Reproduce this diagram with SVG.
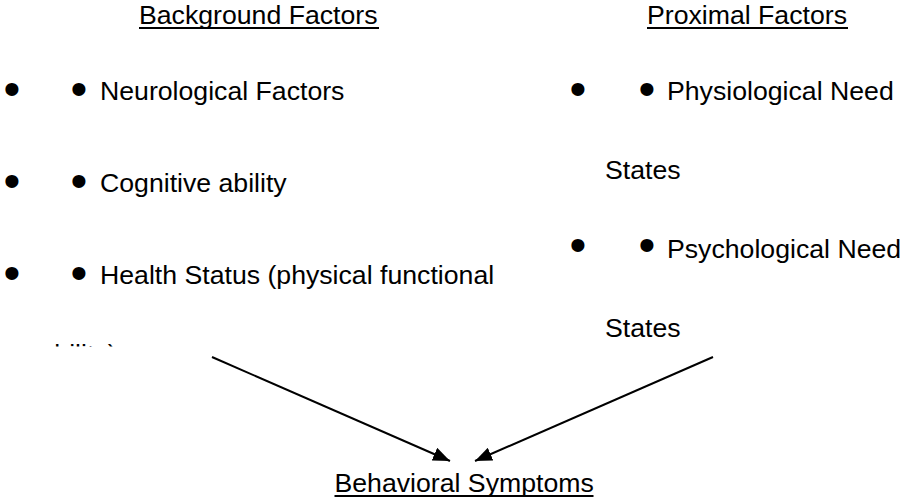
<svg xmlns="http://www.w3.org/2000/svg" width="901" height="501" viewBox="0 0 901 501">
<style>
text { font-family: "Liberation Sans", Arial, sans-serif; font-size: 26.67px; fill: #000; }
text.b { text-anchor: middle; font-size: 48px; }
.ul { fill: #000; }
.conn { stroke: #000; stroke-width: 2; fill: none; marker-end: url(#ah); }
</style>
<defs>
<marker id="ah" markerUnits="userSpaceOnUse" markerWidth="17" markerHeight="14" refX="17" refY="7" orient="auto">
<path d="M0,0 L17,7 L0,14 z" fill="#000"/>
</marker>
<clipPath id="clipAb"><rect x="0" y="300" width="560" height="46.5"/></clipPath>
</defs>
<rect width="901" height="501" fill="#fff"/>
<g id="background-factors">
<text x="139" y="24">Background Factors</text>
<rect class="ul" x="139" y="27" width="240" height="2"/>
</g>
<g id="proximal-factors">
<text x="647" y="24">Proximal Factors</text>
<rect class="ul" x="647" y="27" width="201" height="2"/>
</g>
<g id="neurological">
<text class="b" x="12" y="104.7">•</text>
<text class="b" x="79" y="104.7">•</text>
<text x="100" y="100">Neurological Factors</text>
</g>
<g id="cognitive">
<text class="b" x="12" y="197.2">•</text>
<text class="b" x="79" y="197.2">•</text>
<text x="100" y="192">Cognitive ability</text>
</g>
<g id="health">
<text class="b" x="12" y="288.7">•</text>
<text class="b" x="79" y="288.7">•</text>
<text x="100" y="284">Health Status (physical functional</text>
<text x="39.5" y="363" clip-path="url(#clipAb)">ability)</text>
</g>
<g id="physiological">
<text class="b" x="578" y="104.7">•</text>
<text class="b" x="647" y="104.7">•</text>
<text x="667" y="100">Physiological Need</text>
<text x="605" y="179">States</text>
</g>
<g id="psychological">
<text class="b" x="578" y="261.4">•</text>
<text class="b" x="647" y="261.4">•</text>
<text x="667" y="258">Psychological Need</text>
<text x="605" y="337">States</text>
</g>
<g id="behavioral-symptoms">
<text x="334.5" y="492">Behavioral Symptoms</text>
<rect class="ul" x="334.5" y="495" width="259" height="2"/>
</g>
<g id="connectors">
<line class="conn" x1="212" y1="357" x2="450" y2="461"/>
<line class="conn" x1="713" y1="357" x2="475" y2="461"/>
</g>
</svg>
